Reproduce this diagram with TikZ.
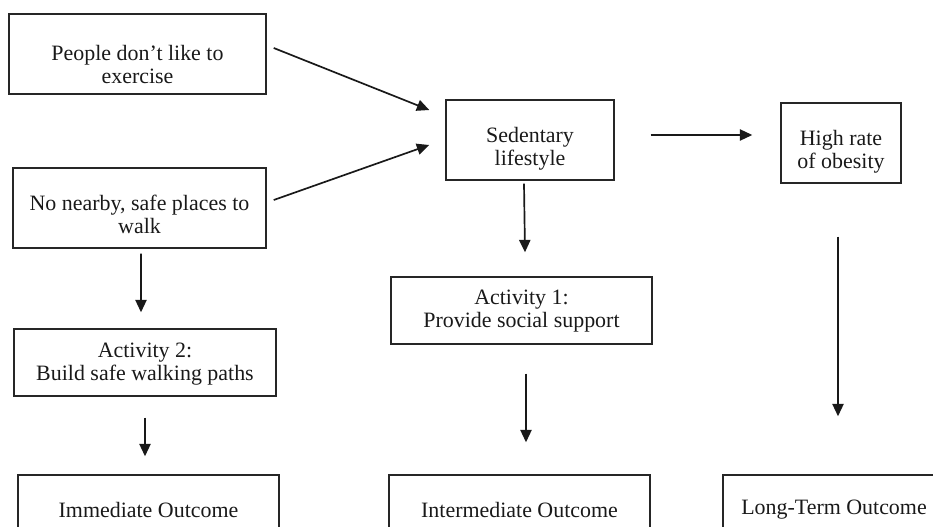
\documentclass[tikz,border=0pt]{standalone}
\usepackage{fontspec}
\setmainfont{Liberation Serif}
\usetikzlibrary{arrows.meta,calc}

\begin{document}
\begin{tikzpicture}[
  x=0.025cm, y=-0.025cm,
  font=\fontsize{15.6}{16.3}\selectfont,
  box/.style={rectangle, draw=black!85, line width=1pt, inner sep=0pt},
  txt/.style={align=center, inner sep=0pt, text=black!90},
  arr/.style={draw=black!90, line width=1.2pt, -{Triangle[length=3.1mm, width=2.8mm]}},
]
\useasboundingbox (0,0) rectangle (933,526);

% causes
\node[box, minimum width=6.425cm, minimum height=2cm] (people) at (137.5,54) {};
\node[txt] (peopletext) at ($(people)+(0,10.5)$) {People don't like to\\exercise};
\node[box, minimum width=6.325cm, minimum height=2cm] (nearby) at (139.5,208) {};
\node[txt] (nearbytext) at ($(nearby)+(0,6.5)$) {No nearby, safe places to\\walk};

% problem and consequence
\node[box, minimum width=4.2cm, minimum height=2cm] (sedentary) at (530,140) {};
\node[txt] (sedentarytext) at ($(sedentary)+(0,8.5)$) {Sedentary\\lifestyle};
\node[box, minimum width=3cm, minimum height=2cm] (obesity) at (841,143) {};
\node[txt] (obesitytext) at ($(obesity)+(0,8.5)$) {High rate\\of obesity};

% activities
\node[box, minimum width=6.55cm, minimum height=1.675cm] (act2) at (145,362.5) {};
\node[txt] (act2text) at ($(act2)+(0,2)$) {Activity 2:\\Build safe walking paths};
\node[box, minimum width=6.525cm, minimum height=1.675cm] (act1) at (521.5,310.5) {};
\node[txt] (act1text) at ($(act1)+(0,1)$) {Activity 1:\\Provide social support};

% outcomes (cut off by the bottom edge)
\node[box, minimum width=6.525cm, minimum height=1.75cm] (immediate) at (148.5,510) {};
\node[txt] (immediatetext) at ($(immediate)+(0,0)$) {Immediate Outcome};
\node[box, minimum width=6.525cm, minimum height=1.75cm] (intermediate) at (519.5,510) {};
\node[txt] (intermediatetext) at ($(intermediate)+(0,0)$) {Intermediate Outcome};
\node[box, minimum width=5.55cm, minimum height=1.75cm] (longterm) at (834,510) {};
\node[txt] (longtermtext) at ($(longterm)+(0,0)$) {Long-Term Outcome};

% connectors
\draw[arr] ($(people.east)+(7,-6)$) -- ($(sedentary.west)+(-16,-30)$);
\draw[arr] ($(nearby.east)+(7,-8)$) -- ($(sedentary.west)+(-16,5)$);
\draw[arr] ($(sedentary.east)+(36,-5)$) -- ($(obesity.west)+(-28,-8)$);
\draw[arr] ($(sedentary.south)+(-6,3)$) -- ($(act1.north)+(3.5,-24)$);
\draw[arr] ($(nearby.south)+(1.5,5)$) -- ($(act2.north)+(-4,-16)$);
\draw[arr] ($(act2.south)+(0,21)$) -- ($(immediate.north)+(-3.5,-18)$);
\draw[arr] ($(act1.south)+(4.5,29)$) -- ($(intermediate.north)+(6.5,-32)$);
\draw[arr] ($(obesity.south)+(-3,53)$) -- ($(longterm.north)+(4,-58)$);
\end{tikzpicture}
\end{document}
